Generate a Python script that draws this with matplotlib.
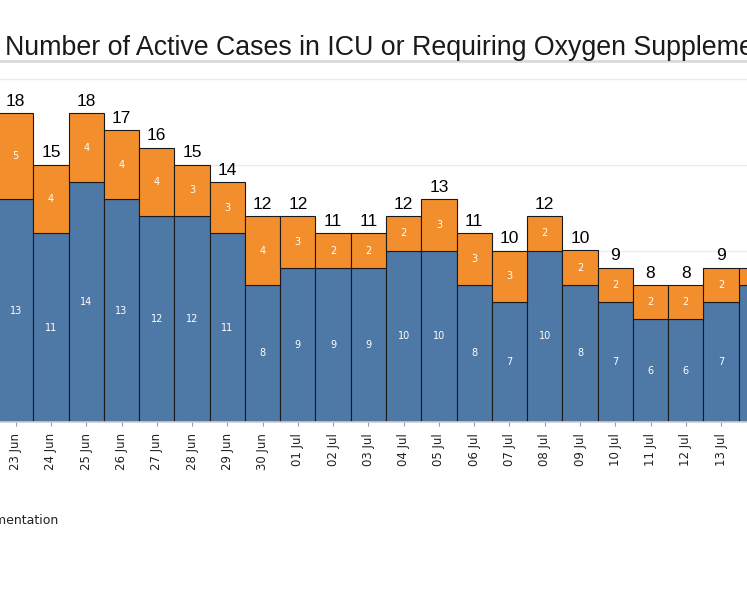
import matplotlib
matplotlib.use("Agg")
import matplotlib.pyplot as plt

# Active cases by day (last bar is cut off at the right edge)
dates = ['23 Jun', '24 Jun', '25 Jun', '26 Jun', '27 Jun', '28 Jun', '29 Jun', '30 Jun',
         '01 Jul', '02 Jul', '03 Jul', '04 Jul', '05 Jul', '06 Jul', '07 Jul', '08 Jul',
         '09 Jul', '10 Jul', '11 Jul', '12 Jul', '13 Jul', '14 Jul']
icu = [13, 11, 14, 13, 12, 12, 11, 8, 9, 9, 9, 10, 10, 8, 7, 10, 8, 7, 6, 6, 7, 8]
oxygen = [5, 4, 4, 4, 4, 3, 3, 4, 3, 2, 2, 2, 3, 3, 3, 2, 2, 2, 2, 2, 2, 1]

blue = '#4e79a7'
orange = '#f28e2b'

W, H = 747, 598
fig = plt.figure(figsize=(W / 100, H / 100), dpi=100)

# axes placed in pixel terms so that bars line up with the reference
px_per_bar = 35.27
first_center = 15.7
base_y = 422
px_per_unit = 17.15
ymax = 20.2
ax = fig.add_axes([0, (H - base_y) / H, 1, ymax * px_per_unit / H])
x_right = (W - first_center) / px_per_bar

x = list(range(len(dates)))
totals = [a + b for a, b in zip(icu, oxygen)]

ax.bar(x, icu, width=1.0, color=blue, edgecolor='#1a1a1a', linewidth=0.8, zorder=2)
ax.bar(x, oxygen, bottom=icu, width=1.0, color=orange, edgecolor='#1a1a1a', linewidth=0.8, zorder=2)

for i in x:
    if i > x_right:
        # bar centre is off the picture, its labels are not visible
        continue
    ax.text(i, icu[i] / 2, str(icu[i]), ha='center', va='center', color='white',
            fontsize=7, zorder=3)
    ax.text(i, icu[i] + oxygen[i] / 2, str(oxygen[i]), ha='center', va='center',
            color='white', fontsize=7, zorder=3)
    ax.text(i, totals[i] + 0.25, str(totals[i]), ha='center', va='bottom', color='black',
            fontsize=12.5, family='Liberation Sans', zorder=3)

for g in [5, 10, 15, 20]:
    ax.axhline(g, color='#ececec', linewidth=1, zorder=1)

for s in ['top', 'left', 'right']:
    ax.spines[s].set_visible(False)
ax.spines['bottom'].set_color('#cccccc')
ax.spines['bottom'].set_linewidth(1.2)
ax.set_yticks([])
ax.set_xticks(x)
ax.set_xticklabels(dates, rotation=90, fontsize=8.5, color='#222222')
ax.tick_params(axis='x', length=3, color='#999999', pad=5)
# limits last: set_xticks would widen them otherwise
ax.set_xlim(-first_center / px_per_bar, x_right)
ax.set_ylim(0, ymax)

# title and the separator line below it
fig.text(5 / W, 1 - 55 / H, 'Number of Active Cases in ICU or Requiring Oxygen Supplementation',
         fontsize=19.3, family='Liberation Sans', color='#1a1a1a', ha='left', va='baseline')
fig.add_artist(plt.Line2D([0, 1], [1 - 61 / H, 1 - 61 / H], color='#d9d9d9', linewidth=2))

# legend entry, cut off at the left edge
fig.text(58 / W, 1 - 524 / H, 'Requiring Oxygen Supplementation', fontsize=9,
         color='#222222', ha='right', va='baseline')

fig.savefig('out.png', dpi=100)
